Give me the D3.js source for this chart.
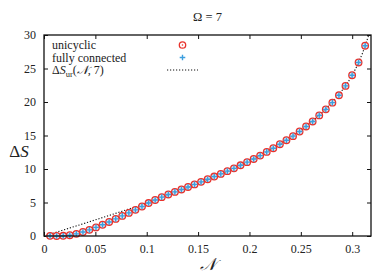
<!DOCTYPE html>
<html>
<head>
<meta charset="utf-8">
<script src="https://cdn.jsdelivr.net/npm/d3@7"></script>
<style>
  body { margin: 0; background: #fff; }
  svg text { font-family: "Liberation Serif", "Times New Roman", serif; fill: #222; }
</style>
</head>
<body>
<div id="chart"></div>
<script>
// values
var nValues = [0.0059, 0.0123, 0.0187, 0.0251, 0.0315, 0.0379, 0.0442, 0.0506, 0.0570, 0.0634,
  0.0698, 0.0762, 0.0826, 0.0890, 0.0954, 0.1018, 0.1082, 0.1146, 0.1210, 0.1274,
  0.1338, 0.1402, 0.1465, 0.1529, 0.1593, 0.1657, 0.1721, 0.1785, 0.1849, 0.1913,
  0.1977, 0.2041, 0.2104, 0.2168, 0.2232, 0.2296, 0.2360, 0.2424, 0.2488, 0.2551,
  0.2615, 0.2679, 0.2743, 0.2807, 0.2871, 0.2935, 0.2999, 0.3062, 0.3126];
var unicyclic = [0.02, 0.0, 0.03, 0.12, 0.32, 0.6, 0.92, 1.28, 1.68, 2.1,
  2.55, 3.0, 3.45, 3.9, 4.4, 4.92, 5.37, 5.8, 6.2, 6.58,
  6.95, 7.32, 7.7, 8.08, 8.47, 8.87, 9.27, 9.68, 10.1, 10.55,
  11.02, 11.5, 12.0, 12.55, 13.1, 13.7, 14.3, 14.9, 15.6, 16.35,
  17.1, 18.0, 18.9, 19.9, 21.0, 22.4, 24.0, 25.9, 28.4];
var fullyConnected = unicyclic.slice();
var urN = [0, 0.02, 0.04, 0.06, 0.08, 0.1, 0.12, 0.14, 0.16, 0.18, 0.2, 0.22, 0.24, 0.26, 0.28, 0.29, 0.3, 0.31, 0.3165];
var urS = [0, 0.95, 1.92, 2.9, 3.9, 4.9, 6.1, 7.22, 8.42, 9.75, 11.2, 12.85, 14.7, 17.0, 19.9, 21.7, 24.0, 27.3, 30.2];
var xTicks = [0, 0.05, 0.1, 0.15, 0.2, 0.25, 0.3];
var yTicks = [0, 5, 10, 15, 20, 25, 30];

(function() {
  var w = 392, h = 275;
  var mLeft = 44, mRight = 371, mTop = 35, mBottom = 236;
  var red = "#e8322c", blue = "#3d9fdf";
  var serif = "'Liberation Serif', 'Times New Roman', serif";

  var svg = d3.select("#chart").append("svg")
      .attr("width", w)
      .attr("height", h);

  var x = d3.scaleLinear().domain([0, 0.3183]).range([mLeft, mRight]);
  var y = d3.scaleLinear().domain([0, 30]).range([mBottom, mTop]);

  svg.append("clipPath").attr("id", "clip")
    .append("rect").attr("x", mLeft).attr("y", mTop)
    .attr("width", mRight - mLeft).attr("height", mBottom - mTop);

  // ticks on all four sides, pointing inward
  var tl = 4;
  function noDomain(g) { g.select(".domain").remove(); }
  svg.append("g").attr("transform", "translate(0," + mBottom + ")")
      .call(d3.axisBottom(x).tickValues(xTicks).tickSizeInner(-tl).tickSizeOuter(0).tickPadding(8)
        .tickFormat(function(d) { return String(d); }))
      .call(noDomain);
  svg.append("g").attr("transform", "translate(0," + mTop + ")")
      .call(d3.axisTop(x).tickValues(xTicks).tickSizeInner(-tl).tickSizeOuter(0).tickFormat(""))
      .call(noDomain);
  svg.append("g").attr("transform", "translate(" + mLeft + ",0)")
      .call(d3.axisLeft(y).tickValues(yTicks).tickSizeInner(-tl).tickSizeOuter(0).tickPadding(8))
      .call(noDomain);
  svg.append("g").attr("transform", "translate(" + mRight + ",0)")
      .call(d3.axisRight(y).tickValues(yTicks).tickSizeInner(-tl).tickSizeOuter(0).tickFormat(""))
      .call(noDomain);

  svg.selectAll(".tick text")
      .attr("font-family", serif)
      .style("font-family", serif)
      .style("font-size", "12px")
      .attr("fill", "#222");
  svg.selectAll(".tick line").attr("stroke", "#111");

  // dotted reference curve
  var line = d3.line()
      .x(function(d, i) { return x(urN[i]); })
      .y(function(d) { return y(d); })
      .curve(d3.curveMonotoneX);

  svg.append("path")
      .datum(urS)
      .attr("clip-path", "url(#clip)")
      .attr("fill", "none")
      .attr("stroke", "#111")
      .attr("stroke-width", 1.1)
      .attr("stroke-dasharray", "1.2,1.8")
      .attr("d", line);

  // unicyclic: open red circles
  svg.append("g").selectAll("circle")
      .data(unicyclic)
      .enter().append("circle")
      .attr("cx", function(d, i) { return x(nValues[i]); })
      .attr("cy", function(d) { return y(d); })
      .attr("r", 3.3)
      .attr("fill", "#bcdcf2")
      .attr("fill-opacity", 0.6)
      .attr("stroke", red)
      .attr("stroke-width", 1.3);

  // fully connected: blue plus
  function plus(cx, cy, s) {
    return "M" + (cx - s) + "," + cy + "H" + (cx + s) + "M" + cx + "," + (cy - s) + "V" + (cy + s);
  }
  svg.append("g").selectAll("path")
      .data(fullyConnected)
      .enter().append("path")
      .attr("d", function(d, i) { return plus(x(nValues[i]), y(d), 2.8); })
      .attr("stroke", blue)
      .attr("stroke-width", 1.4)
      .attr("fill", "none");

  // frame
  svg.append("rect")
      .attr("x", mLeft).attr("y", mTop)
      .attr("width", mRight - mLeft).attr("height", mBottom - mTop)
      .attr("fill", "none").attr("stroke", "#111").attr("stroke-width", 1.3);

  // legend
  var lg = svg.append("g").style("font-size", "12px").style("font-family", serif);
  lg.append("text").attr("x", 52).attr("y", 49).text("unicyclic");
  lg.append("text").attr("x", 52).attr("y", 61.5).text("fully connected");
  var t3 = lg.append("text").attr("x", 52).attr("y", 74);
  t3.append("tspan").text("Δ");
  t3.append("tspan").style("font-style", "italic").text("S");
  t3.append("tspan").attr("dy", 2.5).style("font-size", "8.5px").text("ur");
  t3.append("tspan").attr("dy", -2.5).text("(");
  t3.append("tspan").style("font-style", "italic").text("𝒩");
  t3.append("tspan").text(", 7)");

  lg.append("circle").attr("cx", 182.5).attr("cy", 45).attr("r", 3.2)
      .attr("fill", "none").attr("stroke", red).attr("stroke-width", 1.3);
  lg.append("circle").attr("cx", 182.5).attr("cy", 45).attr("r", 0.8).attr("fill", red);
  lg.append("path").attr("d", plus(182.5, 57.5, 2.8))
      .attr("stroke", blue).attr("stroke-width", 1.4);
  lg.append("line").attr("x1", 167).attr("x2", 198).attr("y1", 70).attr("y2", 70)
      .attr("stroke", "#111").attr("stroke-width", 1.1).attr("stroke-dasharray", "1.2,1.8");

  // title and axis labels
  svg.append("text").attr("x", (mLeft + mRight) / 2).attr("y", 21)
      .attr("text-anchor", "middle").style("font-size", "12.5px").style("font-family", serif)
      .text("Ω = 7");

  var yl = svg.append("text").attr("x", 19).attr("y", 157)
      .attr("text-anchor", "middle").style("font-size", "17px").style("font-family", serif);
  yl.append("tspan").text("Δ");
  yl.append("tspan").style("font-style", "italic").text("S");

  svg.append("text").attr("x", (mLeft + mRight) / 2).attr("y", 270)
      .attr("text-anchor", "middle").style("font-size", "17px").style("font-style", "italic")
      .style("font-family", serif)
      .text("𝒩");
})();
</script>
</body>
</html>
